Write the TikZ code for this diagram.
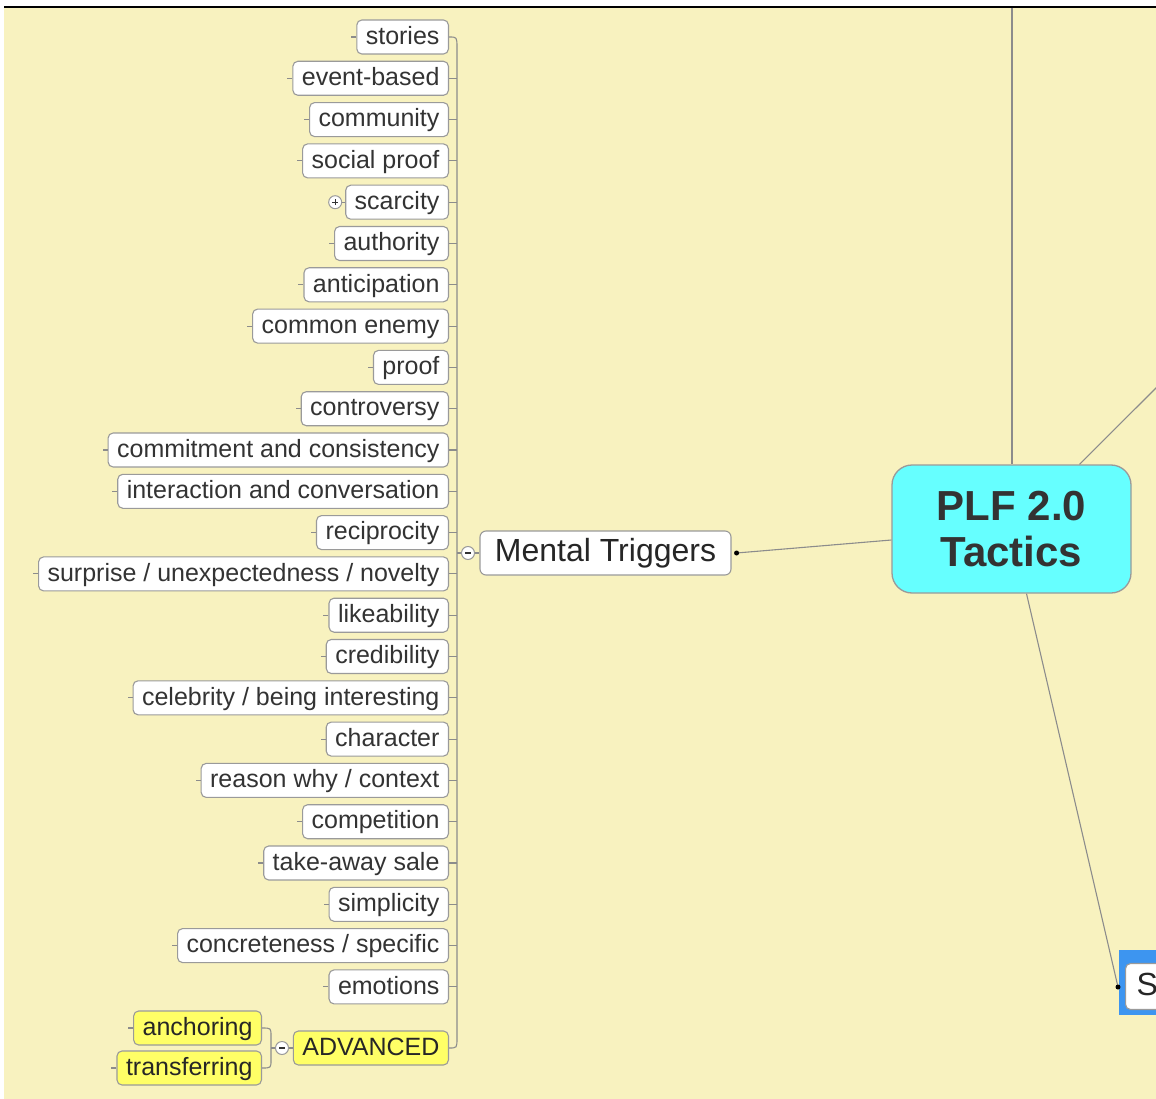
\documentclass[tikz,border=0pt]{standalone}
\usepackage{fontspec}
\setmainfont{Liberation Sans}
\definecolor{bg}{HTML}{F8F2BF}
\definecolor{nodeborder}{HTML}{9A9A9A}
\definecolor{textgray}{HTML}{333333}
\definecolor{connc}{HTML}{8C8C8C}
\definecolor{plfcyan}{HTML}{66FFFF}
\definecolor{advyellow}{HTML}{FFFF66}
\definecolor{sblue}{HTML}{3D95F0}
\begin{document}
\begin{tikzpicture}[x=1pt,y=-1pt,
  leaf/.style={draw=nodeborder, line width=1.1pt, fill=white, rounded corners=5pt,
    font=\fontsize{25}{28}\selectfont, text=textgray, minimum height=34pt,
    inner xsep=9pt, inner ysep=0pt, text height=18.5pt, text depth=4pt},
  yleaf/.style={leaf, fill=advyellow, text=black!85},
  conn/.style={draw=connc, line width=1.1pt},
  togglec/.style={circle, draw=nodeborder, fill=white, line width=1pt, minimum size=13pt, inner sep=0pt},
  tsign/.style={draw=black!80, line width=1.2pt}
]
\clip (0,0) rectangle (1156,1099);
\useasboundingbox (0,0) rectangle (1156,1099);
\fill[white] (0,0) rectangle (1156,1099);
\fill[bg] (4,8) rectangle (1156,1099);
\draw[black, line width=2pt] (4,7) -- (1156,7);

% central node
\node[draw=nodeborder, line width=1.3pt, fill=plfcyan, rounded corners=20pt,
  minimum width=239pt, minimum height=128pt, align=center,
  font=\fontsize{42}{46}\selectfont\bfseries, text=textgray] (plf) at (1011.5,529) {PLF 2.0\\Tactics};

% connectors from central node
\coordinate (topc) at (1012,8);
\draw[conn] (topc) -- (topc |- plf.north);
\coordinate (ur) at (1160,384);
\draw[conn] (ur) -- ([xshift=68pt]plf.north);

% S node (cut off)
\node[fill=sblue, minimum width=60pt, minimum height=65pt, inner sep=0pt, anchor=west] (sbox) at (1119,982.5) {};
\node[draw=nodeborder, line width=1.1pt, fill=white, rounded corners=5pt, anchor=west,
  minimum height=46pt, inner xsep=11pt, inner ysep=0pt,
  font=\fontsize{32}{34}\selectfont, text=black!85, text height=23pt, text depth=6pt] (snode) at (1125,986.5) {S\hspace{20pt}};
\coordinate (sdot) at (1118,987);
\draw[conn] ([xshift=15pt]plf.south) -- (sdot);
\fill[black] (sdot) circle (2.5pt);

% Mental Triggers
\node[draw=nodeborder, line width=1.1pt, fill=white, rounded corners=6pt,
  minimum width=251pt, minimum height=44pt, inner ysep=0pt,
  font=\fontsize{32}{34}\selectfont, text=black!85, text height=23pt, text depth=6pt] (mt) at (605.5,553) {Mental Triggers};
\coordinate (mtdot) at ([xshift=5pt]mt.east);
\draw[conn] (mtdot) -- ([yshift=-11pt]plf.west);
\fill[black] (mtdot) circle (2.5pt);
\node[togglec] (mc) at (468,553) {};
\draw[tsign] ([xshift=-3pt]mc.center) -- ([xshift=3pt]mc.center);
\coordinate (bj) at (457,553);
\draw[conn] (bj) -- (mc.west);
\draw[conn] (mc.east) -- (mt.west);

% leaves
\foreach \t [count=\i from 0] in {stories, event-based, community, social proof, scarcity,
  authority, anticipation, common enemy, proof, controversy, commitment and consistency,
  interaction and conversation, reciprocity, surprise / unexpectedness / novelty,
  likeability, credibility, celebrity / being interesting, character,
  reason why / context, competition, take-away sale, simplicity,
  concreteness / specific, emotions} {
  \pgfmathsetmacro{\yy}{37+\i*41.3}
  \node[leaf, anchor=east] (l\i) at (449,\yy) {\t};
  \ifnum\i>0
    \coordinate (b\i) at (457,\yy);
    \draw[conn] (l\i.east) -- (b\i);
  \fi
  \ifnum\i=4\else
    \draw[conn] (l\i.west) -- ++(-5,0);
  \fi
}
% scarcity expand toggle
\node[togglec] (pc) at ([xshift=-10pt]l4.west) {};
\draw[tsign] ([xshift=-3pt]pc.center) -- ([xshift=3pt]pc.center);
\draw[tsign] ([yshift=-3pt]pc.center) -- ([yshift=3pt]pc.center);
\draw[conn] (pc.east) -- (l4.west);

% ADVANCED
\node[yleaf, anchor=east] (adv) at (449,1048) {ADVANCED};
\draw[conn] (l0.east) .. controls (457,37) .. (457,48) -- (457,1038) .. controls (457,1048) .. (adv.east);
\node[togglec] (ac) at (282,1048) {};
\draw[tsign] ([xshift=-3pt]ac.center) -- ([xshift=3pt]ac.center);
\draw[conn] (ac.east) -- (adv.west);

\node[yleaf, anchor=east] (anch) at (262,1028) {anchoring};
\node[yleaf, anchor=east] (trans) at (262,1068) {transferring};
\draw[conn] (anch.west) -- ++(-5,0);
\draw[conn] (trans.west) -- ++(-5,0);
\draw[conn] (anch.east) .. controls (271,1028) .. (271,1036) -- (271,1060) .. controls (271,1068) .. (trans.east);
\coordinate (aj) at (271,1048);
\draw[conn] (aj) -- (ac.west);
\end{tikzpicture}
\end{document}
